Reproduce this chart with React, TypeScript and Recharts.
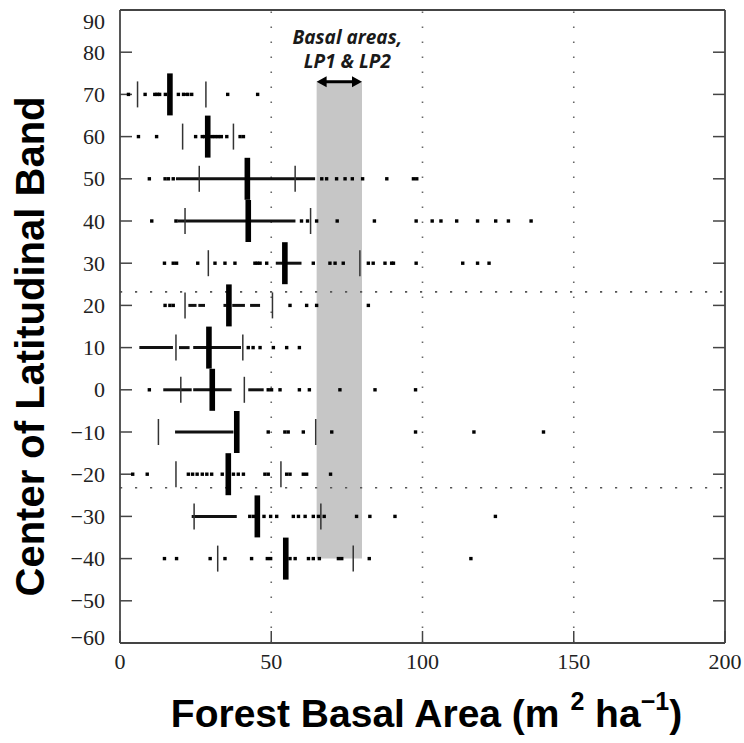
import React from 'react';
import { ScatterChart, Scatter, XAxis, YAxis, ReferenceLine, ReferenceArea } from 'recharts';

// ---- data ----
const latitudes = [70, 60, 50, 40, 30, 20, 10, 0, -10, -20, -30, -40];
const medians = [16.5, 29.0, 42.1, 42.4, 54.5, 36.0, 29.4, 30.5, 38.6, 35.8, 45.4, 54.8];
const lowerTicks = [5.8, 20.7, 26.2, 21.5, 29.2, 21.5, 18.5, 20.1, 12.7, 18.5, 24.5, 32.3];
const upperTicks = [28.4, 37.5, 57.9, 63.0, 79.3, 50.4, 40.6, 41.1, 64.7, 53.2, 66.4, 77.1];

const rowDots: number[][] = [
  [2.8, 8.3, 11.5, 12.3, 13.1, 15.0, 19.3, 21.0, 22.4, 23.7, 35.6, 45.5],
  [6.1, 12.1, 25.0, 27.2, 28.0, 30.5, 31.5, 32.5, 33.5, 35.3, 39.7, 40.8],
  [9.7, 14.9, 16.0, 17.6, 66.7, 68.3, 71.6, 74.4, 76.8, 80.2, 88.2, 97.0, 98.1],
  [10.5, 18.5, 60.0, 62.0, 65.0, 71.8, 84.1, 97.9, 103.2, 106.1, 111.3, 118.2, 124.2, 128.4, 135.9],
  [14.7, 17.6, 18.7, 25.7, 31.4, 34.7, 38.0, 44.6, 45.4, 46.3, 48.5, 63.9, 69.4, 71.1, 73.8, 82.1, 83.7, 87.6, 89.8, 90.4, 97.9, 113.3, 118.2, 122.0],
  [14.9, 16.5, 17.6, 56.2, 61.7, 65.0, 82.1],
  [42.4, 44.0, 46.3, 50.7, 55.1, 59.3],
  [9.7, 49.0, 50.1, 52.9, 59.3, 62.6, 72.7, 84.3, 97.7],
  [49.0, 54.5, 55.6, 60.6, 70.0, 97.7, 117.0, 140.0],
  [4.2, 9.0, 22.6, 24.0, 25.5, 27.2, 28.7, 30.3, 33.8, 37.5, 39.1, 40.8, 47.9, 49.0, 55.1, 56.2, 60.6, 61.7, 69.6],
  [42.9, 44.1, 47.6, 49.8, 51.8, 57.3, 59.0, 61.2, 63.9, 65.6, 67.5, 78.2, 82.6, 90.9, 124.1],
  [14.7, 18.7, 29.8, 34.7, 43.5, 48.7, 49.8, 56.2, 57.9, 62.3, 63.9, 65.9, 72.2, 73.3, 82.4, 116.0],
];

const rowRuns: number[][][] = [
  [[11.5, 13.3], [20.5, 22.5]],
  [[29.5, 34.0]],
  [[18.5, 64.5]],
  [[19.0, 58.0]],
  [[51.5, 60.0]],
  [[22.6, 25.3], [25.9, 28.1], [34.2, 35.3], [37.1, 41.3], [43.0, 46.3]],
  [[6.4, 17.5], [19.5, 23.0], [24.2, 40.0]],
  [[14.3, 23.7], [24.2, 36.9], [42.4, 47.5]],
  [[18.2, 37.5]],
  [],
  [[23.7, 38.6]],
  [],
];

const xTicks = [0, 50, 100, 150, 200];
const yTicks = [90, 80, 70, 60, 50, 40, 30, 20, 10, 0, -10, -20, -30, -40, -50, -60];
const gridX = [50, 100, 150];
const tropics = [23.2, -23.2];
const bandX = [65, 80];
const bandY = [-40, 73];
const annotationLines = ['Basal areas,', 'LP1 & LP2'];

// ---- tables ----
const dotPoints = rowDots.flatMap((row, i) => row.map((x) => ({ x, y: latitudes[i] })));
const medianPoints = medians.map((x, i) => ({ x, y: latitudes[i] }));
const tickPoints = [
  ...lowerTicks.map((x, i) => ({ x, y: latitudes[i] })),
  ...upperTicks.map((x, i) => ({ x, y: latitudes[i] })),
];
const runSegments = rowRuns.flatMap((runs, i) =>
  runs.map(([a, b]) => ({ a, b, y: latitudes[i] }))
);

// ---- shapes ----
const DotShape = (p: any) => (
  <rect x={p.cx - 1.7} y={p.cy - 1.7} width={3.4} height={3.4} fill="#000" />
);
const ThinTick = (p: any) => (
  <line x1={p.cx} x2={p.cx} y1={p.cy - 13} y2={p.cy + 13} stroke="#333" strokeWidth={1.5} />
);
const ThickBar = (p: any) => (
  <rect x={p.cx - 2.8} y={p.cy - 21} width={5.6} height={42} fill="#000" />
);

const fmt = (v: number) => (v < 0 ? '\u2212' + Math.abs(v) : String(v));
const serif = 'Liberation Serif, Times New Roman, DejaVu Serif, serif';

const YTick = (p: any) => {
  const v = p.payload.value;
  const dy = v === 90 ? 11 : v === -60 ? -6 : 0;
  return (
    <text x={p.x} y={p.y + dy} textAnchor="end" dominantBaseline="central"
      style={{ fontFamily: serif }} fontSize={22} fill="#222">
      {fmt(v)}
    </text>
  );
};
const XTick = (p: any) => (
  <text x={p.x} y={p.y + 14} textAnchor="middle"
    style={{ fontFamily: serif }} fontSize={22} fill="#222">
    {fmt(p.payload.value)}
  </text>
);
const NoTick = () => <g />;

const Arrow = (p: any) => {
  const { x1, y1, x2 } = p;
  const h = 10;
  const w = 5.5;
  return (
    <g>
      <line x1={x1 + h - 1} x2={x2 - h + 1} y1={y1} y2={y1} stroke="#000" strokeWidth={3} />
      <polygon points={`${x1},${y1} ${x1 + h},${y1 - w} ${x1 + h},${y1 + w}`} fill="#000" />
      <polygon points={`${x2},${y1} ${x2 - h},${y1 - w} ${x2 - h},${y1 + w}`} fill="#000" />
    </g>
  );
};

const BandLabel = (p: any) => {
  const vb = p.viewBox || {};
  const cx = vb.x + vb.width / 2 + 8;
  return (
    <g>
      {annotationLines.map((t, i) => (
        <text key={t} x={cx} y={vb.y - 38 + i * 24} textAnchor="middle"
          style={{ fontFamily: 'Open Sans, sans-serif' }} fontWeight="bold" fontStyle="italic"
          fontSize={19} fill="#1a1a1a">
          {t}
        </text>
      ))}
    </g>
  );
};

const sans = 'Liberation Sans, Arial, sans-serif';

const YTitle = (p: any) => {
  const vb = p.viewBox || {};
  const cx = 30;
  const cy = vb.y + vb.height / 2 + 20;
  return (
    <text x={cx} y={cy} transform={`rotate(-90, ${cx}, ${cy})`} textAnchor="middle"
      dominantBaseline="central" style={{ fontFamily: sans }}
      fontWeight="bold" fontSize={40} fill="#000">
      Center of Latitudinal Band
    </text>
  );
};

const XTitle = (p: any) => {
  const vb = p.viewBox || {};
  const cx = vb.x + vb.width / 2 + 4;
  const y = vb.y + 84;
  return (
    <text x={cx} y={y} textAnchor="middle" style={{ fontFamily: sans }}
      fontWeight="bold" fontSize={39} fill="#000">
      {'Forest Basal Area (m '}
      <tspan fontSize={25} dy={-17}>2</tspan>
      <tspan dy={17}>{' ha'}</tspan>
      <tspan fontSize={25} dy={-17}>{'\u22121'}</tspan>
      <tspan dy={17}>)</tspan>
    </text>
  );
};

const axisStroke = { stroke: '#444', strokeWidth: 1.8 };
const tickStroke = { stroke: '#444', strokeWidth: 1.5 };

export default function App() {
  return (
    <div style={{ position: 'absolute', left: 0, top: 0, width: 744, height: 743, background: '#fff' }}>
      <ScatterChart width={744} height={743} margin={{ top: 9, right: 18, left: 0, bottom: 0 }}>
        <XAxis xAxisId={0} type="number" dataKey="x" domain={[0, 200]} ticks={xTicks}
          allowDataOverflow orientation="bottom" height={100} tickSize={-12} tickMargin={24}
          axisLine={axisStroke} tickLine={tickStroke} tick={<XTick />} interval={0}
          label={{ content: <XTitle /> } as any} />
        <XAxis xAxisId="top" type="number" domain={[0, 200]} ticks={xTicks} orientation="top"
          height={1} tickSize={-12} axisLine={axisStroke} tickLine={tickStroke} tick={<NoTick />}
          interval={0} allowDataOverflow />
        <YAxis yAxisId={0} type="number" dataKey="y" domain={[-60, 90]} ticks={yTicks}
          allowDataOverflow orientation="left" width={120} tickSize={-12} tickMargin={27}
          axisLine={axisStroke} tickLine={tickStroke} tick={<YTick />} interval={0}
          label={{ content: <YTitle /> } as any} />
        <YAxis yAxisId="right" type="number" domain={[-60, 90]} ticks={yTicks} orientation="right"
          width={1} tickSize={-12} axisLine={axisStroke} tickLine={tickStroke} tick={<NoTick />}
          interval={0} allowDataOverflow />

        <ReferenceArea x1={bandX[0]} x2={bandX[1]} y1={bandY[0]} y2={bandY[1]} fill="#c6c6c6"
          fillOpacity={1} stroke="none" label={{ content: <BandLabel /> } as any} />

        {gridX.map((x) => (
          <ReferenceLine key={'gx' + x} x={x} stroke="#666" strokeWidth={1.6} strokeDasharray="1.6 13.4" />
        ))}
        {tropics.map((y) => (
          <ReferenceLine key={'tr' + y} y={y} stroke="#555" strokeWidth={1.6} strokeDasharray="2.2 12.8" />
        ))}

        <ReferenceLine segment={[{ x: bandX[0], y: bandY[1] }, { x: bandX[1], y: bandY[1] }]}
          shape={<Arrow />} />

        {runSegments.map((s, i) => (
          <ReferenceLine key={'run' + i} segment={[{ x: s.a, y: s.y }, { x: s.b, y: s.y }]}
            stroke="#111" strokeWidth={3} />
        ))}

        <Scatter data={dotPoints} dataKey="y" shape={<DotShape />} isAnimationActive={false} />
        <Scatter data={tickPoints} dataKey="y" shape={<ThinTick />} isAnimationActive={false} />
        <Scatter data={medianPoints} dataKey="y" shape={<ThickBar />} isAnimationActive={false} />
      </ScatterChart>
    </div>
  );
}
